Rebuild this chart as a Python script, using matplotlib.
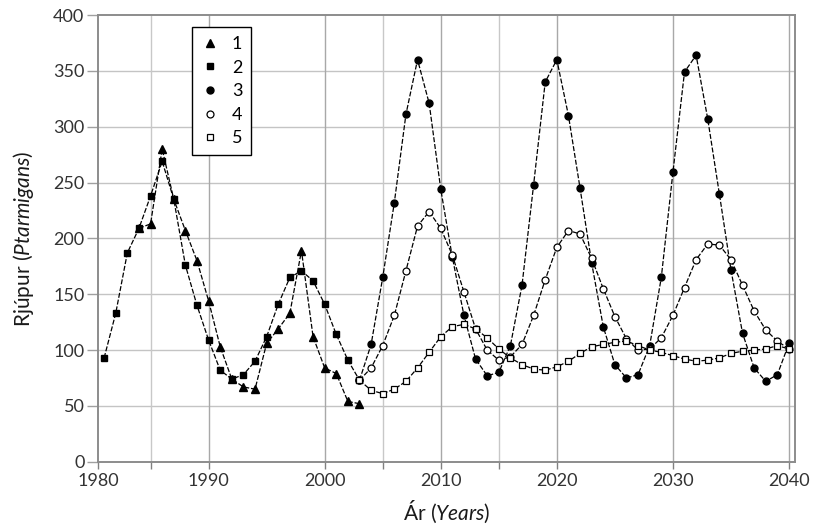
import matplotlib
matplotlib.use("Agg")
import matplotlib.pyplot as plt
from matplotlib.lines import Line2D

plt.rcParams['font.family'] = ['Lato', 'DejaVu Sans']
plt.rcParams['mathtext.fontset'] = 'custom'
plt.rcParams['mathtext.rm'] = 'Lato'
plt.rcParams['mathtext.it'] = 'Lato:italic'

# data
years_1 = list(range(1984, 2004))
series_1 = [209, 213, 280, 235, 207, 180, 144, 103, 74, 67, 65, 106, 119, 133,
            189, 112, 84, 79, 54, 52]

years_2 = list(range(1981, 2004))
series_2 = [93, 133, 187, 209, 238, 269, 235, 176, 140, 109, 82, 74, 78, 90, 112,
            141, 165, 171, 162, 141, 114, 91, 73]

years_345 = list(range(2003, 2041))
series_3 = [73, 105, 165, 232, 311, 360, 321, 244, 183, 131, 92, 77, 80, 104, 158,
            248, 340, 360, 310, 245, 178, 121, 87, 75, 78, 104, 165, 259, 349, 364,
            307, 240, 172, 115, 84, 72, 78, 106]
series_4 = [73, 84, 104, 131, 171, 211, 224, 209, 185, 152, 119, 100, 91, 94, 105,
            131, 163, 192, 207, 204, 182, 155, 130, 110, 100, 101, 111, 131, 156, 181,
            195, 194, 181, 158, 135, 118, 108, 101]
series_5 = [73, 64, 61, 65, 72, 84, 98, 112, 121, 123, 119, 111, 101, 93, 87,
            83, 82, 85, 90, 97, 103, 105, 107, 108, 104, 100, 98, 95, 92, 90,
            91, 93, 97, 99, 100, 101, 104, 101]

labels = ['1', '2', '3', '4', '5']
x_ticks = [1980.5, 1990, 2000, 2010, 2020, 2030, 2040]
x_ticklabels = ['1980', '1990', '2000', '2010', '2020', '2030', '2040']
major_grid = [1990, 2000, 2010, 2020, 2030, 2040]
minor_grid = [1985, 2005, 2015]
y_ticks = [0, 50, 100, 150, 200, 250, 300, 350, 400]

fig = plt.figure(figsize=(8.16, 5.32), dpi=100)
ax = fig.add_axes([0.1205, 0.132, 0.8535, 0.8398])

dash = (0, (4, 1.5))
styles = [
    dict(marker='^', ms=5.5, mfc='black', mec='black'),
    dict(marker='s', ms=5, mfc='black', mec='black'),
    dict(marker='o', ms=5, mfc='black', mec='black'),
    dict(marker='o', ms=5, mfc='white', mec='black', mew=0.9),
    dict(marker='s', ms=5, mfc='white', mec='black', mew=0.9),
]
data = [(years_1, series_1), (years_2, series_2), (years_345, series_5),
        (years_345, series_4), (years_345, series_3)]
order = [0, 1, 4, 3, 2]
for (xs, ys), k in zip(data, order):
    ax.plot(xs, ys, color='black', lw=0.9, linestyle=dash, zorder=3 + k,
            **styles[k])

# grid
for y in y_ticks[1:-1]:
    ax.axhline(y, color='#c4c4c4', lw=1, zorder=1)
for x in major_grid:
    ax.axvline(x, color='#a8a8a8', lw=1, zorder=1)
for x in minor_grid:
    ax.axvline(x, color='#c8c8c8', lw=1, zorder=1)

ax.set_xlim(1980.5, 2040.5)
ax.set_ylim(0, 400)
ax.set_xticks(x_ticks)
ax.set_xticklabels(x_ticklabels)
ax.set_xticks(minor_grid, minor=True)
ax.set_yticks(y_ticks)
ax.tick_params(axis='x', which='both', length=5, width=1, color='#808080',
               labelsize=13, labelcolor='#333333', pad=3)
ax.tick_params(axis='y', length=8, width=1, color='#a0a0a0',
               labelsize=13, labelcolor='#333333', pad=2)
for s in ax.spines.values():
    s.set_color('#8c8c8c')
    s.set_linewidth(1.4)

ax.set_xlabel(r'Ár $\mathit{(Years)}$', fontsize=15, color='#1a1a1a', labelpad=7)
ax.set_ylabel(r'Rjúpur $\mathit{(Ptarmigans)}$', fontsize=15, color='#1a1a1a',
              labelpad=12)

handles = [Line2D([], [], linestyle='none', color='black', **st) for st in styles]
leg = ax.legend(handles, labels, loc='upper left', bbox_to_anchor=(0.1345, 0.973),
                borderaxespad=0, fontsize=13, handlelength=1.0, handletextpad=0.7,
                labelspacing=0.42, borderpad=0.5, fancybox=False, framealpha=1)
leg.get_frame().set_edgecolor('black')
leg.get_frame().set_linewidth(1)
leg.set_zorder(20)

fig.savefig('out.png', dpi=100)
